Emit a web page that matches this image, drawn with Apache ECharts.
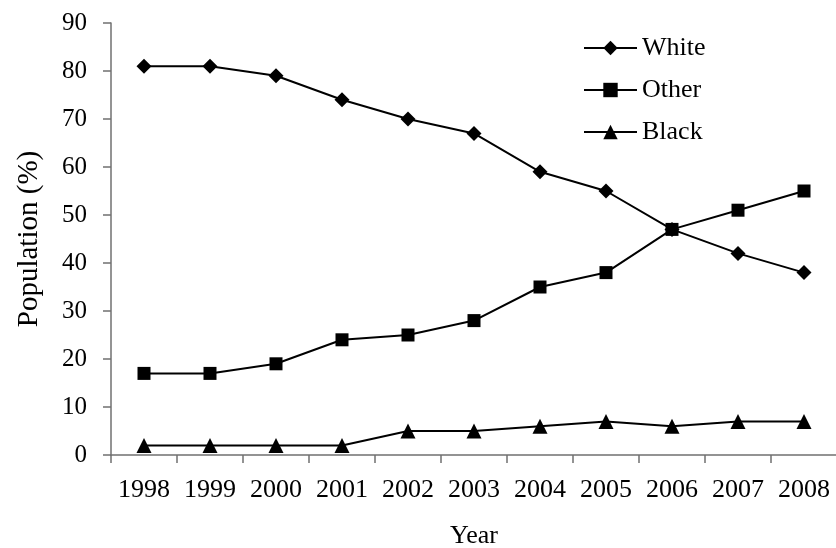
<!DOCTYPE html>
<html>
<head>
<meta charset="utf-8">
<script src="https://cdn.jsdelivr.net/npm/echarts@6/dist/echarts.min.js"></script>
<style>
  html, body { margin: 0; padding: 0; background: #fff; }
  #chart { width: 836px; height: 548px; }
</style>
</head>
<body>
<div id="chart"></div>
<script>
// Population share by group, 1998-2008 (%)
const years = ['1998', '1999', '2000', '2001', '2002', '2003', '2004', '2005', '2006', '2007', '2008'];
const white = [81, 81, 79, 74, 70, 67, 59, 55, 47, 42, 38];
const other = [17, 17, 19, 24, 25, 28, 35, 38, 47, 51, 55];
const black = [2, 2, 2, 2, 5, 5, 6, 7, 6, 7, 7];

const serif = "'Liberation Serif', 'Times New Roman', serif";

function lineSeries(name, data, symbol, size) {
  return {
    name: name,
    type: 'line',
    data: data,
    symbol: symbol,
    symbolSize: size,
    showAllSymbol: true,
    lineStyle: { color: '#000', width: 2 },
    itemStyle: { color: '#000' },
    emphasis: { disabled: true },
    animation: false
  };
}

const chart = echarts.init(document.getElementById('chart'));
chart.setOption({
  animation: false,
  textStyle: { fontFamily: serif, color: '#000' },
  grid: { left: 111, top: 23, width: 726, height: 432, containLabel: false, outerBoundsMode: 'none' },
  legend: {
    orient: 'vertical',
    left: 578,
    top: 30,
    itemWidth: 53,
    itemHeight: 18,
    itemGap: 16,
    textStyle: { fontFamily: serif, fontSize: 26, color: '#000', padding: [0, 0, 0, 0] },
    data: ['White', 'Other', 'Black']
  },
  xAxis: {
    type: 'category',
    data: years,
    boundaryGap: true,
    name: 'Year',
    nameLocation: 'middle',
    nameGap: 68,
    nameTextStyle: { fontFamily: serif, fontSize: 26, color: '#000' },
    axisLine: { lineStyle: { color: '#707070', width: 1.5 } },
    axisTick: { show: true, interval: 0, length: 8, alignWithLabel: false, lineStyle: { color: '#707070', width: 1.5 } },
    axisLabel: { interval: 0, hideOverlap: false, fontFamily: serif, fontSize: 26, color: '#000', margin: 22 },
    splitLine: { show: false }
  },
  yAxis: {
    type: 'value',
    min: 0,
    max: 90,
    interval: 10,
    name: 'Population (%)',
    nameLocation: 'middle',
    nameGap: 67,
    nameTextStyle: { fontFamily: serif, fontSize: 29, color: '#000' },
    axisLine: { show: true, lineStyle: { color: '#707070', width: 1.5 } },
    axisTick: { show: true, length: 8, lineStyle: { color: '#707070', width: 1.5 } },
    axisLabel: { fontFamily: serif, fontSize: 25, color: '#000', margin: 24 },
    splitLine: { show: false }
  },
  series: [
    lineSeries('White', white, 'diamond', 15),
    lineSeries('Other', other, 'rect', 13),
    lineSeries('Black', black, 'triangle', 15)
  ]
});
</script>
</body>
</html>
